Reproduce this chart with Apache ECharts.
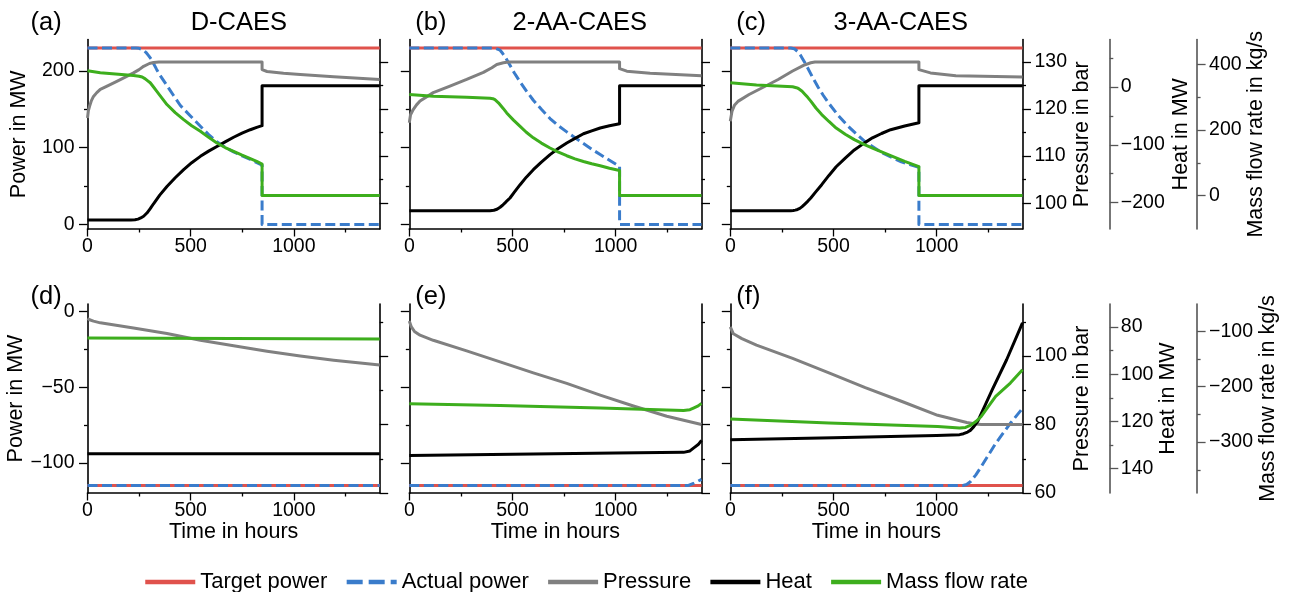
<!DOCTYPE html>
<html><head><meta charset="utf-8">
<script src="https://cdn.jsdelivr.net/npm/echarts@6/dist/echarts.min.js"></script>
<style>html,body{margin:0;padding:0;background:#fff}#c{width:1289px;height:592px}</style>
</head><body><div id="c"></div>
<script>
// ---------------- DATA ----------------
const panelLetters = ['(a)', '(b)', '(c)', '(d)', '(e)', '(f)'];
const panelTitles = ['D-CAES', '2-AA-CAES', '3-AA-CAES'];
const seriesNames = ['Target power', 'Actual power', 'Pressure', 'Heat', 'Mass flow rate'];
const timeMax = 1416;
const timeTicks = [0, 500, 1000];
const timeMinorTicks = [250, 750, 1250];

// top row (discharge) axis ranges and ticks
const topPowerRange = [-6, 241];
const topPowerTicks = [0, 100, 200];
const topPowerMinor = [50, 150];
const topPressRange = [94.5, 134.8];
const topPressTicks = [100, 110, 120, 130];
const topPressMinor = [105, 115, 125];
const topHeatRange = [-245.6, 82];
const topHeatTicks = [-200, -100, 0];
const topHeatMinor = [-150, -50, 50];
const topMassRange = [-102, 476];
const topMassTicks = [0, 200, 400];
const topMassMinor = [100, 300];
// bottom row (charge) axis ranges and ticks
const botPowerRange = [-120, 5];
const botPowerTicks = [-100, -50, 0];
const botPowerMinor = [-75, -25];
const botPressRange = [60, 115.2];
const botPressTicks = [60, 80, 100];
const botPressMinor = [70, 90, 110];
const botHeatRange = [70.3, 150.3];
const botHeatTicks = [80, 100, 120, 140];
const botHeatMinor = [90, 110, 130];
const botMassRange = [-392, -50.5];
const botMassTicks = [-300, -200, -100];
const botMassMinor = [-350, -250, -150];

// (a) D-CAES
const a_target = [[0, 230], [1416, 230]];
const a_actual = [[0, 230], [223, 230], [235, 229.9], [250, 229.5], [260, 228.5], [272, 227], [284, 224], [296, 220], [308, 215.5], [320, 209.6], [335, 202], [350, 195], [385, 181], [417, 168], [450, 155], [500, 141], [547, 128], [587, 117], [627, 107.6], [667, 100.5], [708, 94.5], [749, 89.3], [789, 84.6], [818, 80.7], [846, 77.2], [846, 0], [1416, 0]];
const a_pressure = [[0, 118.1], [4, 119.6], [10, 120.6], [19, 121.8], [29, 122.7], [45, 123.5], [62, 124.2], [100, 125.0], [142, 125.9], [183, 126.8], [223, 127.7], [250, 128.4], [272, 129.1], [300, 129.7], [320, 129.9], [346, 130], [846, 130], [846, 128.4], [870, 128.0], [950, 127.6], [1031, 127.35], [1193, 126.9], [1416, 126.3]];
const a_heat = [[0, -230], [210, -230], [230, -229.5], [245, -228.5], [258, -226.5], [272, -223.5], [288, -218], [304, -210.5], [320, -202], [350, -187], [385, -172], [425, -157], [466, -143], [505, -131], [547, -120], [587, -111], [627, -103], [667, -95], [708, -87], [749, -80], [789, -74], [820, -70], [846, -67], [846, 2], [1416, 2]];
const a_mass = [[0, 380.5], [62, 374.6], [150, 370], [223, 366.4], [250, 364], [265, 361.5], [280, 356], [292, 350], [304, 344], [320, 331], [336, 318], [360, 298], [385, 277.6], [425, 253], [466, 231.7], [505, 213], [547, 195.9], [587, 177.5], [627, 160.4], [667, 146.5], [708, 134.7], [749, 123], [789, 112.3], [820, 104], [846, 96], [846, 0], [1416, 0]];
// (b) 2-AA-CAES
const b_target = [[0, 230], [1416, 230]];
const b_actual = [[0, 230], [400, 230], [410, 229.9], [420, 229.3], [440, 227], [452, 223], [465, 218], [476, 213], [488, 207.4], [510, 197], [537, 185.7], [567, 174], [601, 161.8], [640, 150], [682, 138], [720, 129], [763, 120.6], [803, 113], [844, 105.5], [884, 98], [925, 91.1], [970, 83.5], [1019, 75.5], [1019, 0], [1416, 0]];
const b_pressure = [[0, 117.1], [6, 118.8], [19, 119.9], [35, 120.9], [52, 121.7], [116, 123.5], [197, 124.9], [278, 126.3], [359, 127.8], [400, 128.8], [424, 129.5], [456, 129.85], [480, 130], [1019, 130], [1019, 128.6], [1054, 128.06], [1167, 127.6], [1416, 127.1]];
const b_heat = [[0, -214], [391, -214], [410, -213.2], [425, -211.5], [440, -208], [452, -204.5], [465, -200], [476, -196], [488, -192], [510, -181.5], [537, -169], [567, -156], [601, -143], [640, -130], [682, -117], [720, -107], [763, -97], [803, -89], [844, -81], [884, -76], [925, -71], [970, -67], [1019, -63.6], [1019, 2], [1416, 2]];
const b_mass = [[0, 308], [116, 303], [278, 300], [391, 297], [405, 295.5], [415, 292.5], [424, 288], [432, 283], [440, 277], [456, 265], [472, 252], [505, 230], [537, 211], [567, 193], [601, 176], [640, 160], [682, 145], [720, 133], [763, 121.5], [803, 112], [844, 104], [884, 97], [925, 91], [970, 83.5], [1019, 76.5], [1019, 0], [1416, 0]];
// (c) 3-AA-CAES
const c_target = [[0, 230], [1416, 230]];
const c_actual = [[0, 230], [293, 230], [300, 229.8], [310, 229], [318, 228], [329, 224.7], [339, 221], [350, 216], [361, 211], [373, 205], [398, 192], [425, 179], [451, 168], [478, 157.6], [520, 143], [566, 129.3], [610, 118], [654, 107.6], [698, 100], [742, 92.4], [785, 87], [829, 81.5], [870, 78], [914, 74.5], [914, 0], [1416, 0]];
const c_pressure = [[0, 117.4], [8, 119.5], [20, 120.8], [39, 121.7], [91, 123.1], [162, 124.7], [232, 126.3], [302, 128.1], [355, 129.3], [390, 129.85], [410, 130], [914, 130], [914, 128.4], [970, 127.7], [1093, 127.1], [1416, 126.8]];
const c_heat = [[0, -214], [293, -214], [305, -213.7], [315, -213], [326, -211.8], [337, -210], [348, -207], [360, -203], [375, -197.8], [390, -192], [415, -181], [443, -169], [478, -153], [513, -138], [557, -123], [601, -109], [645, -98], [689, -88], [733, -80.5], [777, -74], [845, -67.5], [914, -62], [914, 2], [1416, 2]];
const c_mass = [[0, 344], [127, 337], [302, 332], [320, 329], [330, 326.5], [337, 323.5], [348, 318], [360, 310], [375, 299.5], [390, 288], [415, 267], [443, 247], [478, 226], [513, 206], [557, 187], [601, 170.5], [645, 157], [689, 145], [733, 133], [777, 121.5], [845, 104], [914, 88], [914, 0], [1416, 0]];
// (d) D-CAES charge
const d_target = [[0, -115], [1416, -115]];
const d_actual = [[0, -115], [1416, -115]];
const d_pressure = [[0, 111.0], [10, 110.6], [29, 110.2], [62, 109.7], [223, 108.2], [385, 106.6], [547, 104.6], [708, 103.0], [870, 101.4], [1031, 100.0], [1193, 98.8], [1416, 97.4]];
const d_heat = [[0, 133.7], [1416, 133.7]];
const d_mass = [[0, -111.9], [700, -112.8], [1416, -113.7]];
// (e) 2-AA-CAES charge
const e_target = [[0, -115], [1416, -115]];
const e_actual = [[0, -115], [1353, -115], [1380, -113.5], [1416, -111]];
const e_pressure = [[0, 110.2], [10, 108.5], [25, 107.2], [52, 106.1], [116, 104.6], [278, 101.5], [440, 98.3], [601, 95.1], [763, 92.0], [925, 88.6], [1086, 85.4], [1248, 82.4], [1416, 80.0]];
const e_heat = [[0, 134.4], [500, 133.9], [1000, 133.4], [1329, 133.1], [1360, 132.5], [1377, 131.3], [1400, 129.8], [1416, 128.0]];
const e_mass = [[0, -230.7], [440, -234], [925, -238.6], [1329, -242.8], [1360, -241.5], [1377, -238.6], [1400, -234.5], [1416, -230]];
// (f) 3-AA-CAES charge
const f_target = [[0, -115], [1416, -115]];
const f_actual = [[0, -115], [1128, -115], [1145, -114.4], [1163, -112.6], [1190, -108], [1216, -102.6], [1286, -87.2], [1357, -73.9], [1416, -64]];
const f_pressure = [[0, 108.5], [15, 106.5], [56, 105.1], [127, 103.2], [302, 99.3], [478, 95.1], [654, 90.8], [829, 86.8], [1005, 82.7], [1146, 80.6], [1190, 80.15], [1216, 80], [1416, 80]];
const f_heat = [[0, 127.8], [500, 126.9], [1000, 126.0], [1111, 125.6], [1130, 125.2], [1150, 124.5], [1163, 123.8], [1180, 122.2], [1199, 120.0], [1234, 113.3], [1269, 106.6], [1339, 93.9], [1416, 78.3]];
const f_mass = [[0, -258.4], [478, -265.7], [1005, -271.8], [1111, -274.7], [1140, -273.5], [1163, -270], [1190, -263], [1216, -253.7], [1250, -236], [1286, -217.5], [1357, -193.3], [1416, -169.3]];

// ---------------- STYLE / LAYOUT ----------------
const FONT = '"Liberation Sans", Arial, Helvetica, sans-serif';
const COLORS = { target: '#E0524C', actual: '#3A7CCB', pressure: '#808080', heat: '#000000', mass: '#3DAE1D' };
const colLeft = [87.5, 409.3, 730.3];
const plotW = 292.2;
const rowTop = [39.5, 304];
const rowH = [189.5, 189];
const TICK_FS = 19.5, NAME_FS = 21.5, LEGEND_FS = 22, TITLE_FS = 25.5;

const panels = [
  [a_target, a_actual, a_pressure, a_heat, a_mass],
  [b_target, b_actual, b_pressure, b_heat, b_mass],
  [c_target, c_actual, c_pressure, c_heat, c_mass],
  [d_target, d_actual, d_pressure, d_heat, d_mass],
  [e_target, e_actual, e_pressure, e_heat, e_mass],
  [f_target, f_actual, f_pressure, f_heat, f_mass]
];
const rowAxes = [
  { power: topPowerRange, pT: topPowerTicks, pM: topPowerMinor, press: topPressRange, prT: topPressTicks, prM: topPressMinor,
    heat: topHeatRange, hT: topHeatTicks, hM: topHeatMinor, hInv: false, mass: topMassRange, mT: topMassTicks, mM: topMassMinor,
    heatGap: 60, massGap: 48, pressGap: 46, powerGap: 57 },
  { power: botPowerRange, pT: botPowerTicks, pM: botPowerMinor, press: botPressRange, prT: botPressTicks, prM: botPressMinor,
    heat: botHeatRange, hT: botHeatTicks, hM: botHeatMinor, hInv: true, mass: botMassRange, mT: botMassTicks, mM: botMassMinor,
    heatGap: 47, massGap: 48, pressGap: 46, powerGap: 50 }
];

const fmt = v => (v < 0 ? '\u2212' + Math.abs(v) : String(v));
const HEAT_OFF = 87.3, MASS_OFF = 174.6;

function vAxis(o) {
  return {
    type: 'value', gridIndex: o.grid, position: o.pos, offset: o.offset || 0,
    min: o.range[0], max: o.range[1], inverse: !!o.inverse, show: o.show !== false,
    axisLine: { show: !!o.line, onZero: false, lineStyle: { color: o.color || '#000', width: 1.6 } },
    axisTick: { show: true, inside: false, length: o.minor ? 3.5 : 8.5, customValues: o.ticks,
      lineStyle: { color: o.color || '#000', width: 1.3 } },
    axisLabel: { show: !!o.labels, customValues: o.ticks, formatter: fmt, margin: o.margin || 12,
      fontSize: TICK_FS, color: '#000', fontFamily: FONT },
    splitLine: { show: false }, minorTick: { show: false },
    name: o.name || '', nameLocation: 'middle', nameGap: o.nameGap || 0,
    nameTextStyle: { fontSize: NAME_FS, color: '#000', fontFamily: FONT }
  };
}

const grids = [], xAxes = [], yAxes = [], series = [];
for (let p = 0; p < 6; p++) {
  const row = Math.floor(p / 3), col = p % 3;
  const R = rowAxes[row];
  grids.push({ left: colLeft[col], top: rowTop[row], width: plotW, height: rowH[row], containLabel: false });
  const xMajor = {
    type: 'value', gridIndex: p, position: 'bottom', min: 0, max: timeMax,
    axisLine: { show: true, onZero: false, lineStyle: { color: '#000', width: 1.6 } },
    axisTick: { show: true, length: 7.5, customValues: timeTicks, lineStyle: { color: '#000', width: 1.3 } },
    axisLabel: { show: true, customValues: timeTicks, formatter: v => String(v), margin: 7.5, fontSize: TICK_FS, color: '#000', fontFamily: FONT },
    splitLine: { show: false },
    name: row === 1 ? 'Time in hours' : '', nameLocation: 'middle', nameGap: 25,
    nameTextStyle: { fontSize: NAME_FS, color: '#000', fontFamily: FONT }
  };
  const xMinor = {
    type: 'value', gridIndex: p, position: 'bottom', min: 0, max: timeMax,
    axisLine: { show: false, onZero: false },
    axisTick: { show: true, length: 3.5, customValues: timeMinorTicks, lineStyle: { color: '#000', width: 1.3 } },
    axisLabel: { show: false }, splitLine: { show: false }
  };
  xAxes.push(xMajor, xMinor);
  const last = col === 2;
  yAxes.push(vAxis({ grid: p, pos: 'left', range: R.power, ticks: R.pT, line: true, labels: col === 0, margin: 13,
    name: col === 0 ? 'Power in MW' : '', nameGap: R.powerGap }));
  yAxes.push(vAxis({ grid: p, pos: 'left', range: R.power, ticks: R.pM, minor: true }));
  yAxes.push(vAxis({ grid: p, pos: 'right', range: R.press, ticks: R.prT, line: true, labels: last, margin: 12,
    name: last ? 'Pressure in bar' : '', nameGap: R.pressGap }));
  yAxes.push(vAxis({ grid: p, pos: 'right', range: R.press, ticks: R.prM, minor: true }));
  yAxes.push(vAxis({ grid: p, pos: 'right', offset: HEAT_OFF, range: R.heat, inverse: R.hInv, ticks: R.hT, line: true,
    labels: true, color: '#555', margin: 11, show: last, name: last ? 'Heat in MW' : '', nameGap: R.heatGap }));
  yAxes.push(vAxis({ grid: p, pos: 'right', offset: HEAT_OFF, range: R.heat, inverse: R.hInv, ticks: R.hM, minor: true,
    color: '#555', show: last }));
  yAxes.push(vAxis({ grid: p, pos: 'right', offset: MASS_OFF, range: R.mass, ticks: R.mT, line: true,
    labels: true, color: '#555', margin: 12, show: last, name: last ? 'Mass flow rate in kg/s' : '', nameGap: R.massGap }));
  yAxes.push(vAxis({ grid: p, pos: 'right', offset: MASS_OFF, range: R.mass, ticks: R.mM, minor: true,
    color: '#555', show: last }));

  const d = panels[p];
  const yIdx = [p * 8, p * 8, p * 8 + 2, p * 8 + 4, p * 8 + 6];
  const cols = [COLORS.target, COLORS.actual, COLORS.pressure, COLORS.heat, COLORS.mass];
  for (let s = 0; s < 5; s++) {
    series.push({
      type: 'line', name: seriesNames[s], xAxisIndex: p * 2, yAxisIndex: yIdx[s], data: d[s],
      symbol: 'none', showSymbol: false, animation: false, clip: true, z: 2 + s, smooth: false,
      lineStyle: { color: cols[s], width: 3, type: s === 1 ? [10, 4.5] : 'solid', cap: 'butt', join: 'round' },
      itemStyle: { color: cols[s] }, emphasis: { disabled: true }
    });
  }
}

const chart = echarts.init(document.getElementById('c'), null, { renderer: 'canvas' });
chart.setOption({
  backgroundColor: '#fff', animation: false,
  textStyle: { fontFamily: FONT },
  grid: grids, xAxis: xAxes, yAxis: yAxes, series: series,
  legend: {
    left: 138, top: 566, itemWidth: 50, itemHeight: 14, itemGap: 17,
    textStyle: { fontSize: LEGEND_FS, color: '#000', fontFamily: FONT },
    lineStyle: { width: 4.5 },
    itemStyle: { opacity: 0, borderWidth: 0 },
    data: seriesNames.map((n, i) => i === 1 ? { name: n, lineStyle: { type: [16, 6], width: 4.5 } } : { name: n }),
    selectedMode: false
  }
});

const graphics = [];
for (let p = 0; p < 6; p++) {
  const row = Math.floor(p / 3), col = p % 3;
  const origin = chart.convertToPixel({ xAxisIndex: p * 2 }, 0);
  const lx = col === 0 ? origin - 57 : origin + 6;
  const ly = row === 0 ? 24 : 298;
  graphics.push({ type: 'text', left: lx, top: ly - 14, style: { text: panelLetters[p], fontSize: TITLE_FS, fill: '#000', fontFamily: FONT } });
  if (row === 0) {
    const tx = chart.convertToPixel({ xAxisIndex: p * 2 }, 500);
    graphics.push({ type: 'text', left: tx, top: 24 - 14, style: { text: panelTitles[col], fontSize: TITLE_FS, fill: '#000', fontFamily: FONT } });
  }
}
chart.setOption({ graphic: graphics });
</script></body></html>
